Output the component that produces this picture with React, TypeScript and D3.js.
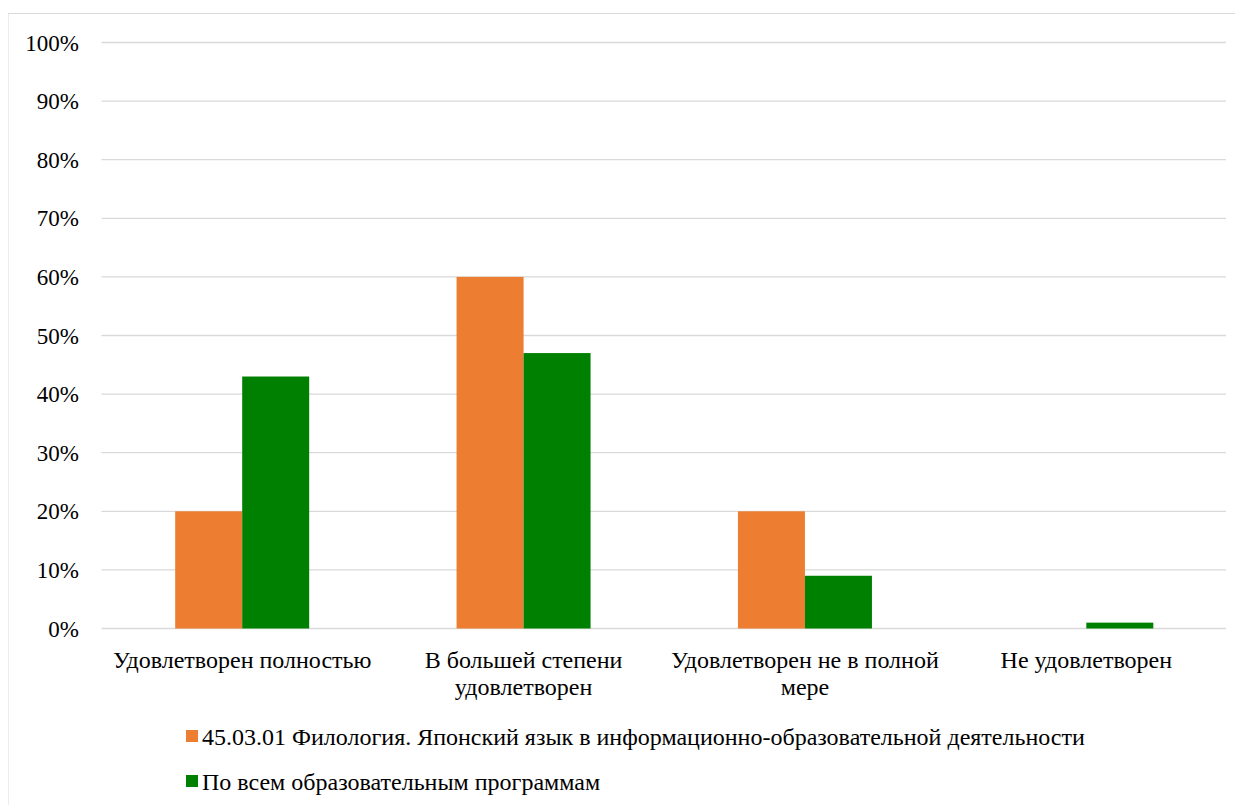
import React from "react";
import * as d3 from "d3";

const categories = [
  "Удовлетворен полностью",
  "В большей степени удовлетворен",
  "Удовлетворен не в полной мере",
  "Не удовлетворен",
];
const seriesNames = [
  "45.03.01 Филология. Японский язык в информационно-образовательной деятельности",
  "По всем образовательным программам",
];
const seriesA = [20, 60, 20, 0];
const seriesB = [43, 47, 9, 1];
const yTicks = [0, 10, 20, 30, 40, 50, 60, 70, 80, 90, 100];
const colors = ["#ED7D31", "#008000"];

const W = 1243;
const H = 805;
const FONT = "Liberation Serif";

function wrap(text: string, maxChars: number): string[] {
  const words = text.split(" ");
  const lines: string[] = [];
  let cur = "";
  for (const w of words) {
    const t = cur ? cur + " " + w : w;
    if (t.length > maxChars && cur) {
      lines.push(cur);
      cur = w;
    } else cur = t;
  }
  if (cur) lines.push(cur);
  return lines;
}

export default function App() {
  const x0 = d3.scaleBand<string>().domain(categories).range([101.5, 1227]).paddingInner(0).paddingOuter(0);
  const barW = 67;
  const y = d3.scaleLinear().domain([0, 100]).range([628.5, 42.5]);
  const series = [seriesA, seriesB];

  return (
    <svg width={W} height={H} style={{ display: "block", marginLeft: -8, marginTop: -8 }}>
      <rect x={0} y={0} width={W} height={H} fill="#fff" />
      <rect x={8} y={13.5} width={W + 10} height={H + 10} fill="#fff" stroke="#d9d9d9" strokeWidth={1} />
      {yTicks.map((t) => (
        <g key={t}>
          <line x1={101.5} x2={1226} y1={y(t)} y2={y(t)} stroke="#d9d9d9" strokeWidth={1.3} />
          <text x={79} y={y(t) + 8} textAnchor="end" fontFamily={FONT} fontSize={23} fill="#000">
            {`${t}%`}
          </text>
        </g>
      ))}
      {categories.map((c, i) => {
        const cx = x0(c)! + x0.bandwidth() / 2;
        return (
          <g key={c}>
            {series.map((s, k) => {
              const v = s[i];
              if (v <= 0) return null;
              const bx = cx - barW + k * barW;
              return (
                <rect key={k} x={bx} y={y(v)} width={barW} height={y(0) - y(v)} fill={colors[k]} />
              );
            })}
            {wrap(c, 25).map((line, li) => (
              <text key={li} x={cx} y={668 + li * 27} textAnchor="middle" fontFamily={FONT} fontSize={24} fill="#000">
                {line}
              </text>
            ))}
          </g>
        );
      })}
      {seriesNames.map((n, k) => (
        <g key={n}>
          <rect x={186} y={730 + k * 45} width={12} height={12} fill={colors[k]} />
          <text x={202} y={745 + k * 45} fontFamily={FONT} fontSize={24} fill="#000">
            {n}
          </text>
        </g>
      ))}
    </svg>
  );
}
